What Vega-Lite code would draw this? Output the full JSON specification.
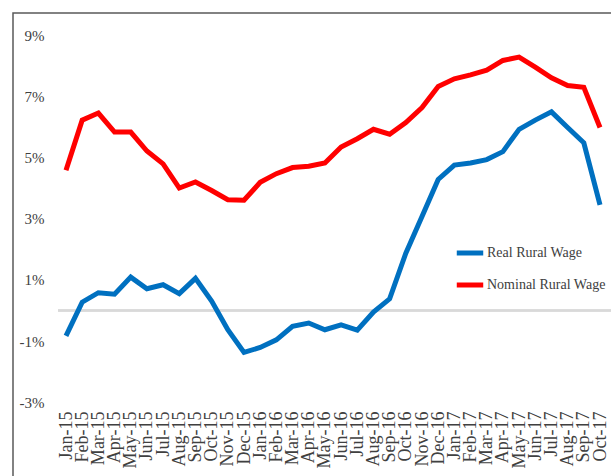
{
  "$schema": "https://vega.github.io/schema/vega-lite/v6.json",
  "autosize": "none",
  "padding": {"left": 13, "top": 13, "right": 0, "bottom": 0},
  "width": 640,
  "height": 467,
  "background": "white",
  "config": {
    "view": {"stroke": "#595959", "strokeWidth": 1.5},
    "font": "Liberation Serif",
    "legend": {"labelFont": "Liberation Serif, Times New Roman, serif", "labelFontSize": 13, "labelColor": "#404040"}
  },
  "datasets": {
    "wages": [
      {"month": "Jan-15", "series": "Real Rural Wage", "value": -0.83},
      {"month": "Feb-15", "series": "Real Rural Wage", "value": 0.27},
      {"month": "Mar-15", "series": "Real Rural Wage", "value": 0.58},
      {"month": "Apr-15", "series": "Real Rural Wage", "value": 0.53},
      {"month": "May-15", "series": "Real Rural Wage", "value": 1.09},
      {"month": "Jun-15", "series": "Real Rural Wage", "value": 0.71},
      {"month": "Jul-15", "series": "Real Rural Wage", "value": 0.84},
      {"month": "Aug-15", "series": "Real Rural Wage", "value": 0.55},
      {"month": "Sep-15", "series": "Real Rural Wage", "value": 1.05},
      {"month": "Oct-15", "series": "Real Rural Wage", "value": 0.31},
      {"month": "Nov-15", "series": "Real Rural Wage", "value": -0.63},
      {"month": "Dec-15", "series": "Real Rural Wage", "value": -1.37},
      {"month": "Jan-16", "series": "Real Rural Wage", "value": -1.21},
      {"month": "Feb-16", "series": "Real Rural Wage", "value": -0.96},
      {"month": "Mar-16", "series": "Real Rural Wage", "value": -0.52},
      {"month": "Apr-16", "series": "Real Rural Wage", "value": -0.41},
      {"month": "May-16", "series": "Real Rural Wage", "value": -0.63},
      {"month": "Jun-16", "series": "Real Rural Wage", "value": -0.47},
      {"month": "Jul-16", "series": "Real Rural Wage", "value": -0.64},
      {"month": "Aug-16", "series": "Real Rural Wage", "value": -0.05},
      {"month": "Sep-16", "series": "Real Rural Wage", "value": 0.38},
      {"month": "Oct-16", "series": "Real Rural Wage", "value": 1.87},
      {"month": "Nov-16", "series": "Real Rural Wage", "value": 3.07},
      {"month": "Dec-16", "series": "Real Rural Wage", "value": 4.28},
      {"month": "Jan-17", "series": "Real Rural Wage", "value": 4.75},
      {"month": "Feb-17", "series": "Real Rural Wage", "value": 4.82},
      {"month": "Mar-17", "series": "Real Rural Wage", "value": 4.93},
      {"month": "Apr-17", "series": "Real Rural Wage", "value": 5.19},
      {"month": "May-17", "series": "Real Rural Wage", "value": 5.92},
      {"month": "Jun-17", "series": "Real Rural Wage", "value": 6.22},
      {"month": "Jul-17", "series": "Real Rural Wage", "value": 6.49},
      {"month": "Aug-17", "series": "Real Rural Wage", "value": 5.98},
      {"month": "Sep-17", "series": "Real Rural Wage", "value": 5.48},
      {"month": "Oct-17", "series": "Real Rural Wage", "value": 3.45},
      {"month": "Jan-15", "series": "Nominal Rural Wage", "value": 4.58},
      {"month": "Feb-15", "series": "Nominal Rural Wage", "value": 6.22},
      {"month": "Mar-15", "series": "Nominal Rural Wage", "value": 6.45},
      {"month": "Apr-15", "series": "Nominal Rural Wage", "value": 5.83},
      {"month": "May-15", "series": "Nominal Rural Wage", "value": 5.83},
      {"month": "Jun-15", "series": "Nominal Rural Wage", "value": 5.21},
      {"month": "Jul-15", "series": "Nominal Rural Wage", "value": 4.79},
      {"month": "Aug-15", "series": "Nominal Rural Wage", "value": 4.0},
      {"month": "Sep-15", "series": "Nominal Rural Wage", "value": 4.2},
      {"month": "Oct-15", "series": "Nominal Rural Wage", "value": 3.92},
      {"month": "Nov-15", "series": "Nominal Rural Wage", "value": 3.62},
      {"month": "Dec-15", "series": "Nominal Rural Wage", "value": 3.6},
      {"month": "Jan-16", "series": "Nominal Rural Wage", "value": 4.19},
      {"month": "Feb-16", "series": "Nominal Rural Wage", "value": 4.47},
      {"month": "Mar-16", "series": "Nominal Rural Wage", "value": 4.67},
      {"month": "Apr-16", "series": "Nominal Rural Wage", "value": 4.71},
      {"month": "May-16", "series": "Nominal Rural Wage", "value": 4.82},
      {"month": "Jun-16", "series": "Nominal Rural Wage", "value": 5.34},
      {"month": "Jul-16", "series": "Nominal Rural Wage", "value": 5.61},
      {"month": "Aug-16", "series": "Nominal Rural Wage", "value": 5.92},
      {"month": "Sep-16", "series": "Nominal Rural Wage", "value": 5.76},
      {"month": "Oct-16", "series": "Nominal Rural Wage", "value": 6.14},
      {"month": "Nov-16", "series": "Nominal Rural Wage", "value": 6.63},
      {"month": "Dec-16", "series": "Nominal Rural Wage", "value": 7.32},
      {"month": "Jan-17", "series": "Nominal Rural Wage", "value": 7.57},
      {"month": "Feb-17", "series": "Nominal Rural Wage", "value": 7.7},
      {"month": "Mar-17", "series": "Nominal Rural Wage", "value": 7.85},
      {"month": "Apr-17", "series": "Nominal Rural Wage", "value": 8.17},
      {"month": "May-17", "series": "Nominal Rural Wage", "value": 8.28},
      {"month": "Jun-17", "series": "Nominal Rural Wage", "value": 7.95},
      {"month": "Jul-17", "series": "Nominal Rural Wage", "value": 7.6},
      {"month": "Aug-17", "series": "Nominal Rural Wage", "value": 7.35},
      {"month": "Sep-17", "series": "Nominal Rural Wage", "value": 7.29},
      {"month": "Oct-17", "series": "Nominal Rural Wage", "value": 5.98}
    ]
  },
  "data": {"name": "wages"},
  "encoding": {
    "x": {
      "field": "month",
      "type": "ordinal",
      "sort": null,
      "scale": {
        "type": "point",
        "padding": 0,
        "range": [53, 587],
        "domain": ["Jan-15", "Feb-15", "Mar-15", "Apr-15", "May-15", "Jun-15", "Jul-15", "Aug-15", "Sep-15", "Oct-15", "Nov-15", "Dec-15", "Jan-16", "Feb-16", "Mar-16", "Apr-16", "May-16", "Jun-16", "Jul-16", "Aug-16", "Sep-16", "Oct-16", "Nov-16", "Dec-16", "Jan-17", "Feb-17", "Mar-17", "Apr-17", "May-17", "Jun-17", "Jul-17", "Aug-17", "Sep-17", "Oct-17"]
      },
      "axis": {
        "title": null,
        "orient": "bottom",
        "offset": -69,
        "domain": false,
        "ticks": false,
        "labelPadding": 0,
        "labelAngle": -90,
        "labelFont": "Liberation Serif",
        "labelFontSize": 18,
        "labelColor": "#404040"
      }
    }
  },
  "layer": [
    {
      "mark": {"type": "rule", "color": "#d9d9d9", "strokeWidth": 1.5, "xOffset": -8, "x2Offset": 30},
      "encoding": {
        "x": {"datum": "Jan-15"},
        "x2": {"datum": "Oct-17"},
        "y": {"datum": 0, "type": "quantitative"}
      }
    },
    {
      "mark": {"type": "line", "strokeWidth": 5},
      "encoding": {
        "y": {
          "field": "value",
          "type": "quantitative",
          "scale": {"domain": [-5.54, 9.72], "nice": false, "zero": false},
          "axis": {
            "title": null,
            "orient": "left",
            "offset": -36,
            "domain": false,
            "ticks": false,
            "grid": false,
            "labelPadding": 5,
            "values": [-3, -1, 1, 3, 5, 7, 9],
            "labelExpr": "datum.value + '%'",
            "labelFont": "Liberation Serif",
            "labelFontSize": 15,
            "labelColor": "#404040"
          }
        },
        "color": {
          "field": "series",
          "type": "nominal",
          "scale": {"domain": ["Real Rural Wage", "Nominal Rural Wage"], "range": ["#0070C0", "#FF0000"]},
          "legend": {
            "title": null,
            "orient": "none",
            "legendX": 441,
            "legendY": 224,
            "padding": 0,
            "symbolType": "stroke",
            "symbolSize": 700,
            "symbolStrokeWidth": 5,
            "labelOffset": 1,
            "rowPadding": 6,
            "labelFont": "Liberation Serif, Times New Roman, serif",
            "labelFontSize": 14,
            "labelColor": "#404040"
          }
        }
      }
    }
  ]
}
